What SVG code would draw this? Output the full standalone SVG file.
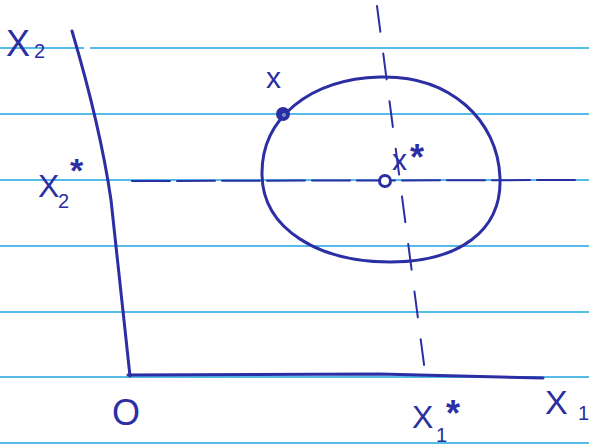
<svg xmlns="http://www.w3.org/2000/svg" width="589" height="445" viewBox="0 0 589 445">
<style>
.rule{stroke:#55bbe8;stroke-width:2;fill:none}
.ink{stroke:#2b2fa3;stroke-width:3;fill:none;stroke-linecap:round;stroke-linejoin:round}
.thin{stroke:#2b2fa3;stroke-width:2;fill:none;stroke-linecap:round}
.t{fill:#2b2fa3;font-family:"Liberation Sans","DejaVu Sans",sans-serif}
</style>
<rect width="589" height="445" fill="#ffffff"/>
<g id="paper">
<line class="rule" x1="0" y1="48" x2="84" y2="48"/><line class="rule" x1="90" y1="48" x2="589" y2="48"/>
<line class="rule" x1="0" y1="114" x2="589" y2="114"/>
<line class="rule" x1="0" y1="180" x2="589" y2="180"/>
<line class="rule" x1="0" y1="246" x2="589" y2="246"/>
<line class="rule" x1="0" y1="312" x2="589" y2="312"/>
<line class="rule" x1="0" y1="377" x2="589" y2="377"/>
<line class="rule" x1="0" y1="443" x2="589" y2="443"/>
</g>
<g id="connectors">
<path id="guide-x2" class="thin" stroke-dasharray="38 7" d="M132,181 L575,180"/>
<path id="guide-x1" class="thin" stroke-dasharray="26 22" d="M377,6 L425,372"/>
<path id="axis-y" class="ink" d="M72,31 C88,85 103,145 111,200 L130,376"/>
<path id="axis-x" class="ink" d="M128,375 L380,374 L543,378"/>
</g>
<g id="ellipse">
<path class="ink" d="M380,77 C450,75 498,120 500,178 C502,230 460,262 390,262 C320,262 263,230 262,175 C261,118 310,79 380,77 Z"/>
</g>
<g id="point-x">
<circle cx="283" cy="114" r="6" fill="#2b2fa3" stroke="#2b2fa3" stroke-width="2"/>
<circle cx="284" cy="115" r="2" fill="#6f8fd0"/>
<text class="t" x="266" y="88" font-size="30">x</text>
</g>
<g id="point-xstar">
<circle cx="385" cy="181" r="5.5" fill="#ffffff" stroke="#2b2fa3" stroke-width="3"/>
<text class="t" x="392" y="170" font-size="30">x</text>
<text class="t" x="410" y="170" font-size="36" font-weight="bold">*</text>
</g>
<g id="label-X2">
<text class="t" x="6" y="56" font-size="36">X</text>
<text class="t" x="34" y="58" font-size="20">2</text>
</g>
<g id="label-X2star">
<text class="t" x="38" y="197" font-size="32">X</text>
<text class="t" x="58" y="208" font-size="20">2</text>
<text class="t" x="70" y="182" font-size="34" font-weight="bold">*</text>
</g>
<g id="label-origin">
<text class="t" x="112" y="425" font-size="36">O</text>
</g>
<g id="label-X1star">
<text class="t" x="412" y="428" font-size="32">X</text>
<text class="t" x="436" y="442" font-size="20">1</text>
<text class="t" x="446" y="426" font-size="36" font-weight="bold">*</text>
</g>
<g id="label-X1">
<text class="t" x="545" y="414" font-size="34">X</text>
<text class="t" x="578" y="420" font-size="20">1</text>
</g>
</svg>
